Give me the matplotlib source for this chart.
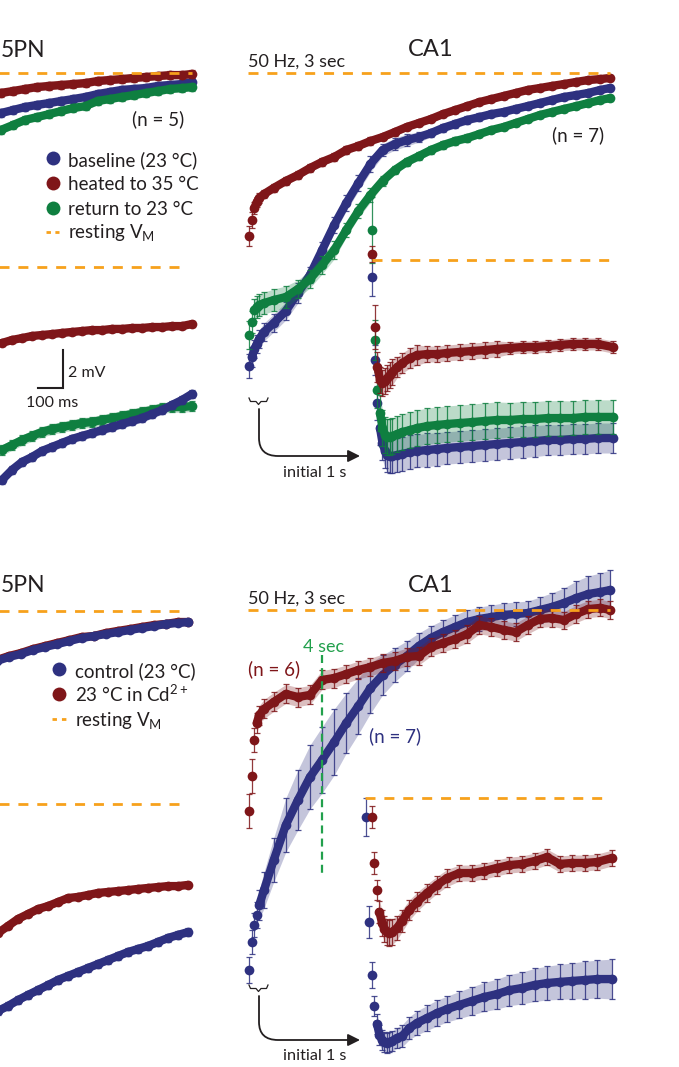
import numpy as np
import matplotlib
matplotlib.use("Agg")
import matplotlib.pyplot as plt
from matplotlib.path import Path
from matplotlib.patches import FancyArrowPatch

plt.rcParams['font.family'] = ['Lato', 'DejaVu Sans']
plt.rcParams['mathtext.fontset'] = 'custom'
plt.rcParams['mathtext.rm'] = 'Lato'
plt.rcParams['mathtext.it'] = 'Lato:italic'
plt.rcParams['mathtext.bf'] = 'Lato:bold'

# ------------------------------------------------------------------ data
# time points (ms) of the plotted pulses / samples
T_STIM = [0, 20, 40, 60, 80, 120, 200, 300, 400, 500, 600, 700, 800, 900, 1000,
          1100, 1200, 1300, 1400, 1500, 1600, 1700, 1800, 1900, 2000, 2100, 2200,
          2300, 2400, 2500, 2600, 2700, 2800, 2900, 2980]
T_POST = [0, 10, 20, 30, 40, 50, 60, 70, 80, 100, 120, 150, 180, 220, 260, 300,
          350, 400, 450, 500, 550, 600, 650, 700, 750, 800, 850, 900, 960]
T_L5_STIM = [1400, 1500, 1600, 1700, 1800, 1900, 2000, 2100, 2200, 2300, 2400,
             2500, 2600, 2700, 2800, 2900, 2980]
T_L5_POST = [200, 240, 280, 320, 360, 400, 440, 480, 520, 560, 600, 640, 680,
             720, 760, 800, 840, 880, 920, 960]
T_POST_CTRL_B = [-24, -12] + T_POST

# ---- top row : temperature (mV relative to resting Vm)
ca1_stim_base = [-15.42, -14.95, -14.53, -14.26, -14.00, -13.63, -13.16, -12.53, -11.58, -10.63,
                 -9.32, -8.00, -6.84, -5.79, -4.79, -4.05, -3.74, -3.53, -3.37, -3.16, -2.89,
                 -2.68, -2.47, -2.32, -2.16, -2.05, -1.89, -1.74, -1.58, -1.42, -1.26, -1.16,
                 -1.05, -0.89, -0.79]
ca1_stim_base_err = [0.63, 0.53, 0.47, 0.47, 0.47, 0.47, 0.47, 0.47, 0.53, 0.42, 0.42, 0.42,
                     0.42, 0.42, 0.42, 0.32, 0.32, 0.32, 0.26, 0.21, 0.21, 0.21, 0.21, 0.21,
                     0.18, 0.18, 0.18, 0.18, 0.18, 0.18, 0.16, 0.16, 0.16, 0.16, 0.16]
ca1_stim_heat = [-8.58, -7.74, -7.11, -6.79, -6.58, -6.37, -6.05, -5.68, -5.37, -5.00, -4.68,
                 -4.42, -4.05, -3.84, -3.58, -3.37, -3.11, -2.84, -2.63, -2.42, -2.16, -1.95,
                 -1.74, -1.53, -1.37, -1.21, -1.05, -0.89, -0.79, -0.68, -0.58, -0.47, -0.37,
                 -0.32, -0.26]
ca1_stim_heat_err = [0.55, 0.42, 0.32, 0.26, 0.24, 0.22, 0.21, 0.21, 0.2, 0.2, 0.2, 0.2, 0.2,
                     0.19, 0.19, 0.18, 0.18, 0.18, 0.17, 0.17, 0.17, 0.16, 0.16, 0.16, 0.16,
                     0.16, 0.16, 0.16, 0.16, 0.16, 0.16, 0.16, 0.16, 0.16, 0.16]
ca1_stim_ret = [-13.79, -13.11, -12.47, -12.32, -12.21, -12.11, -11.95, -11.79, -11.37, -10.84,
                -10.11, -9.32, -8.26, -7.26, -6.42, -5.68, -5.11, -4.68, -4.37, -4.05, -3.79,
                -3.58, -3.42, -3.21, -3.00, -2.84, -2.63, -2.42, -2.21, -2.05, -1.89, -1.74,
                -1.58, -1.42, -1.32]
ca1_stim_ret_err = [0.74, 0.58, 0.58, 0.58, 0.58, 0.58, 0.58, 0.58, 0.47, 0.47, 0.47, 0.47,
                    0.37, 0.37, 0.37, 0.26, 0.21, 0.21, 0.21, 0.21, 0.21, 0.21, 0.21, 0.18,
                    0.18, 0.18, 0.18, 0.18, 0.18, 0.18, 0.16, 0.16, 0.16, 0.16, 0.16]

ca1_post_heat = [0.32, -3.53, -5.63, -6.32, -6.47, -6.37, -6.21, -6.05, -5.89, -5.63, -5.42,
                 -5.16, -5.00, -4.95, -4.95, -4.89, -4.84, -4.79, -4.74, -4.68, -4.63, -4.58,
                 -4.58, -4.53, -4.47, -4.42, -4.42, -4.42, -4.58]
ca1_post_heat_err = [0.42, 1.16, 0.79, 0.68, 0.68, 0.68, 0.68, 0.68, 0.68, 0.53, 0.53, 0.53,
                     0.53, 0.42, 0.42, 0.42, 0.42, 0.42, 0.42, 0.42, 0.32, 0.32, 0.32, 0.32,
                     0.32, 0.32, 0.32, 0.32, 0.32]
ca1_post_ret = [1.58, -4.21, -6.84, -8.05, -8.84, -9.21, -9.32, -9.32, -9.26, -9.16, -9.05,
                -8.95, -8.84, -8.74, -8.68, -8.63, -8.58, -8.53, -8.47, -8.42, -8.42, -8.37,
                -8.37, -8.32, -8.32, -8.32, -8.26, -8.26, -8.26]
ca1_post_ret_err = [1.74, 1.05, 0.95, 0.95, 0.95, 0.95, 0.95, 0.95, 0.95, 0.95, 0.95, 0.95,
                    0.95, 0.95, 0.95, 0.95, 0.95, 0.95, 0.95, 0.95, 0.92, 0.92, 0.92, 0.92,
                    0.92, 0.9, 0.9, 0.9, 0.9]
ca1_post_base = [-0.89, -5.26, -7.53, -8.84, -9.63, -10.05, -10.26, -10.32, -10.32, -10.26,
                 -10.21, -10.11, -10.05, -10.00, -9.95, -9.89, -9.84, -9.79, -9.74, -9.68,
                 -9.63, -9.58, -9.53, -9.47, -9.47, -9.42, -9.42, -9.37, -9.37]
ca1_post_base_err = [1.0, 0.79, 0.89, 0.89, 0.89, 0.89, 0.89, 0.89, 0.89, 0.89, 0.89, 0.89,
                     0.87, 0.87, 0.87, 0.85, 0.85, 0.85, 0.83, 0.83, 0.83, 0.82, 0.82, 0.8,
                     0.8, 0.8, 0.79, 0.79, 0.79]

l5_stim_heat = [-1.05, -0.95, -0.84, -0.74, -0.68, -0.63, -0.58, -0.53, -0.42, -0.37, -0.32,
                -0.26, -0.21, -0.16, -0.11, -0.11, -0.05]
l5_stim_base = [-2.11, -1.95, -1.79, -1.68, -1.58, -1.47, -1.37, -1.26, -1.11, -1.00, -0.89,
                -0.84, -0.79, -0.68, -0.63, -0.58, -0.47]
l5_stim_ret = [-3.0, -2.74, -2.47, -2.32, -2.16, -2.0, -1.84, -1.74, -1.47, -1.37, -1.26,
               -1.16, -1.05, -0.95, -0.84, -0.79, -0.74]
l5_stim_err = 0.2

l5_post_heat = [-4.0, -3.84, -3.74, -3.63, -3.58, -3.53, -3.47, -3.42, -3.37, -3.32, -3.32,
                -3.26, -3.26, -3.21, -3.21, -3.16, -3.16, -3.11, -3.11, -3.0]
l5_post_base = [-11.21, -10.68, -10.26, -10.0, -9.68, -9.47, -9.26, -9.05, -8.89, -8.74, -8.58,
                -8.42, -8.26, -8.11, -7.95, -7.74, -7.53, -7.26, -7.0, -6.68]
l5_post_ret = [-9.63, -9.37, -9.11, -8.89, -8.68, -8.53, -8.42, -8.32, -8.21, -8.16, -8.05,
               -7.95, -7.84, -7.74, -7.63, -7.53, -7.42, -7.37, -7.37, -7.32]
l5_post_heat_err, l5_post_base_err, l5_post_ret_err = 0.15, 0.22, 0.28

# ---- bottom row : Cd2+
cd_ca1_stim_ctrl = [-18.95, -17.47, -16.58, -16.05, -15.53, -14.74, -13.16, -11.32, -10.0, -8.79,
                    -7.89, -6.95, -5.95, -5.05, -4.11, -3.42, -2.89, -2.42, -1.89, -1.47, -1.16,
                    -0.89, -0.63, -0.47, -0.37, -0.26, -0.21, -0.16, 0.0, 0.16, 0.37, 0.63,
                    0.84, 0.95, 1.05]
cd_ca1_stim_ctrl_err = [0.68, 0.63, 0.63, 0.68, 0.79, 0.95, 1.16, 1.42, 1.58, 1.68, 1.74, 1.74,
                        1.58, 1.47, 1.32, 1.05, 0.89, 0.79, 0.68, 0.63, 0.63, 0.63, 0.63, 0.63,
                        0.63, 0.63, 0.63, 0.63, 0.68, 0.74, 0.79, 0.89, 0.95, 1.0, 1.05]
cd_ca1_stim_cd = [-10.58, -8.74, -6.84, -5.95, -5.53, -5.21, -4.84, -4.42, -4.58, -4.47, -3.68,
                  -3.58, -3.37, -3.16, -3.0, -2.79, -2.68, -2.47, -2.42, -1.95, -1.74, -1.53,
                  -1.26, -0.79, -0.89, -1.05, -1.16, -0.79, -0.47, -0.42, -0.53, -0.21, 0.05,
                  0.11, 0.0]
cd_ca1_stim_cd_err = [0.89, 0.89, 0.63, 0.53, 0.5, 0.5, 0.5, 0.5, 0.5, 0.5, 0.5, 0.5, 0.47,
                      0.47, 0.47, 0.47, 0.47, 0.47, 0.47, 0.47, 0.47, 0.47, 0.47, 0.47, 0.47,
                      0.47, 0.47, 0.47, 0.45, 0.45, 0.45, 0.45, 0.45, 0.45, 0.45]

cd_ca1_post_cd = [-1.0, -3.42, -4.84, -6.0, -6.58, -6.89, -7.05, -7.11, -7.05, -6.84, -6.47,
                  -5.89, -5.47, -5.0, -4.58, -4.21, -3.95, -3.95, -3.84, -3.68, -3.53, -3.47,
                  -3.32, -3.11, -3.47, -3.42, -3.42, -3.37, -3.16]
cd_ca1_post_cd_err = [0.58, 0.58, 0.53, 0.6, 0.66, 0.68, 0.68, 0.68, 0.68, 0.63, 0.58, 0.53,
                      0.5, 0.47, 0.45, 0.45, 0.42, 0.42, 0.42, 0.42, 0.42, 0.42, 0.42, 0.42,
                      0.42, 0.42, 0.42, 0.42, 0.42]
cd_ca1_post_ctrl = [-1.0, -6.53, -9.32, -10.95, -11.89, -12.47, -12.74, -12.84, -12.89, -12.84,
                    -12.79, -12.63, -12.53, -12.11, -11.84, -11.58, -11.32, -11.11, -10.89,
                    -10.68, -10.47, -10.32, -10.11, -10.0, -9.84, -9.74, -9.68, -9.63, -9.58,
                    -9.53, -9.53]
cd_ca1_post_ctrl_err = [1.0, 0.84, 0.68, 0.53, 0.53, 0.53, 0.53, 0.53, 0.53, 0.53, 0.53, 0.55,
                        0.58, 0.6, 0.63, 0.66, 0.68, 0.68, 0.71, 0.74, 0.76, 0.79, 0.82, 0.84,
                        0.87, 0.89, 0.92, 0.95, 0.98, 1.0, 1.05]

cd_l5_stim_cd = [-2.58, -2.37, -2.21, -2.0, -1.84, -1.68, -1.53, -1.37, -1.32, -1.16, -1.05,
                 -0.95, -0.84, -0.74, -0.68, -0.58, -0.58]
cd_l5_stim_ctrl = [-2.63, -2.42, -2.26, -2.05, -1.89, -1.74, -1.58, -1.42, -1.32, -1.21, -1.11,
                   -1.0, -0.89, -0.79, -0.68, -0.63, -0.58]
cd_l5_stim_err = 0.12
cd_l5_post_cd = [-6.79, -6.42, -6.05, -5.79, -5.53, -5.37, -5.16, -4.95, -4.89, -4.79, -4.68,
                 -4.63, -4.58, -4.53, -4.47, -4.42, -4.37, -4.32, -4.32, -4.26]
cd_l5_post_ctrl = [-10.89, -10.63, -10.32, -10.05, -9.79, -9.53, -9.26, -9.05, -8.84, -8.63,
                   -8.42, -8.21, -8.0, -7.79, -7.63, -7.47, -7.26, -7.05, -6.89, -6.74]
cd_l5_post_cd_err, cd_l5_post_ctrl_err = 0.1, 0.2

SCALE_MS, SCALE_MV = 100, 2
GREEN_MARK_MS = 600

# ------------------------------------------------------------------ style
BLUE = '#2e3180'
RED = '#7f1619'
GREEN = '#0f7f40'
ORANGE = '#f7a11c'
GREEN_LINE = '#22a04c'
INK = '#231f20'

W, H, DPI = 679, 1067, 100
PX_PER_MV = 19.0
STIM_PPM = 0.121
POST_PPM = 0.25

fig = plt.figure(figsize=(W / DPI, H / DPI), dpi=DPI)


def trace_axes(x0, ppm, rest):
    ax = fig.add_axes([0, 0, 1, 1])
    ax.set_xlim(-x0 / ppm, (W - x0) / ppm)
    ax.set_ylim((rest - H) / PX_PER_MV, rest / PX_PER_MV)
    ax.set_axis_off()
    ax.patch.set_visible(False)
    return ax


def draw_trace(ax, t, v, err, color, dense_from=0, z=2.0):
    t = np.asarray(t, float)
    v = np.asarray(v, float)
    e = np.broadcast_to(np.asarray(err, float), v.shape)
    d = dense_from
    ax.fill_between(t[d:], (v - e)[d:], (v + e)[d:], color=color, alpha=0.28, lw=0, zorder=z)
    ax.errorbar(t, v, yerr=e, fmt='none', ecolor=color, elinewidth=0.9, capsize=2.4,
                capthick=0.9, alpha=0.85, zorder=z + 0.1)
    ax.plot(t[d:], v[d:], '-', color=color, lw=6.0, solid_capstyle='round',
            solid_joinstyle='round', zorder=z + 0.2)
    ax.plot(t, v, 'o', color=color, ms=7.0, mew=0, zorder=z + 0.3)


def rest_line(ax, t0, t1):
    ax.plot([t0, t1], [0, 0], color=ORANGE, lw=2.0, dashes=(3.6, 3.2), zorder=10)


# ---------------- top row
ax = trace_axes(-168.6, STIM_PPM, 73)
draw_trace(ax, T_L5_STIM, l5_stim_base, l5_stim_err, BLUE, z=2)
draw_trace(ax, T_L5_STIM, l5_stim_ret, l5_stim_err, GREEN, z=3)
draw_trace(ax, T_L5_STIM, l5_stim_heat, l5_stim_err, RED, z=4)
rest_line(ax, 1300, 2980)

ax = trace_axes(-48, POST_PPM, 267)
draw_trace(ax, T_L5_POST, l5_post_heat, l5_post_heat_err, RED, z=2)
draw_trace(ax, T_L5_POST, l5_post_ret, l5_post_ret_err, GREEN, z=3)
draw_trace(ax, T_L5_POST, l5_post_base, l5_post_base_err, BLUE, z=4)
rest_line(ax, 100, 940)
sb_t, sb_v = 344, -6.37
ax.plot([sb_t, sb_t + SCALE_MS, sb_t + SCALE_MS], [sb_v, sb_v, sb_v + SCALE_MV],
        color=INK, lw=1.5, solid_joinstyle='miter', zorder=12)

ax = trace_axes(249.5, STIM_PPM, 73)
draw_trace(ax, T_STIM, ca1_stim_base, ca1_stim_base_err, BLUE, dense_from=1, z=2)
draw_trace(ax, T_STIM, ca1_stim_heat, ca1_stim_heat_err, RED, dense_from=2, z=3)
draw_trace(ax, T_STIM, ca1_stim_ret, ca1_stim_ret_err, GREEN, dense_from=2, z=4)
rest_line(ax, -12, 2980)

ax = trace_axes(372.5, POST_PPM, 260)
draw_trace(ax, T_POST, ca1_post_base, ca1_post_base_err, BLUE, dense_from=3, z=2)
draw_trace(ax, T_POST, ca1_post_ret, ca1_post_ret_err, GREEN, dense_from=3, z=3)
draw_trace(ax, T_POST, ca1_post_heat, ca1_post_heat_err, RED, dense_from=2, z=4)
rest_line(ax, -2, 950)

# ---------------- bottom row
ax = trace_axes(-172.6, STIM_PPM, 611)
draw_trace(ax, T_L5_STIM, cd_l5_stim_cd, cd_l5_stim_err, RED, z=2)
draw_trace(ax, T_L5_STIM, cd_l5_stim_ctrl, cd_l5_stim_err, BLUE, z=3)
rest_line(ax, 1300, 2914)

ax = trace_axes(-52, POST_PPM, 804)
draw_trace(ax, T_L5_POST, cd_l5_post_cd, cd_l5_post_cd_err, RED, z=2)
draw_trace(ax, T_L5_POST, cd_l5_post_ctrl, cd_l5_post_ctrl_err, BLUE, z=3)
rest_line(ax, 100, 928)

ax = trace_axes(249.5, STIM_PPM, 610)
draw_trace(ax, T_STIM, cd_ca1_stim_ctrl, cd_ca1_stim_ctrl_err, BLUE, dense_from=4, z=2)
draw_trace(ax, T_STIM, cd_ca1_stim_cd, cd_ca1_stim_cd_err, RED, dense_from=3, z=3)
rest_line(ax, -12, 2980)
ax.plot([GREEN_MARK_MS, GREEN_MARK_MS], [-2.37, -13.84], color=GREEN_LINE, lw=1.6,
        dashes=(3.6, 2.3), zorder=11)

ax = trace_axes(372, POST_PPM, 798)
draw_trace(ax, T_POST_CTRL_B, cd_ca1_post_ctrl, cd_ca1_post_ctrl_err, BLUE, dense_from=4, z=2)
draw_trace(ax, T_POST, cd_ca1_post_cd, cd_ca1_post_cd_err, RED, dense_from=3, z=3)
rest_line(ax, -28, 932)

# ------------------------------------------------------------------ annotations (pixel overlay)
ov = fig.add_axes([0, 0, 1, 1])
ov.set_xlim(0, W)
ov.set_ylim(H, 0)
ov.set_axis_off()
ov.patch.set_visible(False)


def txt(x, y, s, size=13.5, color=INK, ha='left', **kw):
    ov.text(x, y, s, fontsize=size, color=color, ha=ha, va='baseline', **kw)


# titles (the reference is cropped at its left edge, showing only "5PN")
txt(1, 57, '5PN', size=16.5)
txt(431, 56, 'CA1', size=17, ha='center')
txt(1, 592, '5PN', size=16.5)
txt(431, 592, 'CA1', size=17, ha='center')
txt(248, 67, '50 Hz, 3 sec', size=13)
txt(248, 604, '50 Hz, 3 sec', size=13)

txt(132, 125, '(n = 5)')
txt(552, 141, '(n = 7)')
txt(248, 675, '(n = 6)', color=RED)
txt(369, 742, '(n = 7)', color=BLUE)
txt(303, 652, '4 sec', size=13, color=GREEN_LINE)

# legends
leg_top = [('baseline (23 °C)', BLUE, 158, 166), ('heated to 35 °C', RED, 183, 190),
           ('return to 23 °C', GREEN, 208, 215)]
for lab, c, ym, yb in leg_top:
    ov.plot([53], [ym], 'o', color=c, ms=10, mew=0)
    txt(68, yb, lab)
ov.plot([46, 59], [232, 232], color=ORANGE, lw=2, dashes=(1.6, 1.6))
txt(68, 238, r'resting V$_{\mathregular{M}}$')

leg_bot = [('control (23 °C)', BLUE, 669, 677), (r'23 °C in Cd$^{\mathregular{2+}}$', RED, 694, 702)]
for lab, c, ym, yb in leg_bot:
    ov.plot([59], [ym], 'o', color=c, ms=10, mew=0)
    txt(75, yb, lab)
ov.plot([52, 66], [719, 719], color=ORANGE, lw=2, dashes=(1.6, 1.8))
txt(75, 726, r'resting V$_{\mathregular{M}}$')

# scale bar labels
txt(68, 377, '2 mV', size=11.5)
txt(26, 407, '100 ms', size=11.5)


# braces + arrows
def brace_and_arrow(yb, y_arrow, y_text):
    bx = [249, 250.5, 256, 258.5, 261, 266.5, 268]
    by = [yb, yb + 3.5, yb + 3.5, yb + 6.5, yb + 3.5, yb + 3.5, yb]
    ov.plot(bx, by, color=INK, lw=0.9)
    verts = [(259, yb + 11), (259, y_arrow - 18), (259, y_arrow), (278, y_arrow),
             (360, y_arrow)]
    codes = [Path.MOVETO, Path.LINETO, Path.CURVE3, Path.CURVE3, Path.LINETO]
    arr = FancyArrowPatch(path=Path(verts, codes), arrowstyle='-|>,head_length=0.6,head_width=0.3',
                          mutation_scale=12, color=INK, lw=1.3, transform=ov.transData)
    ov.add_patch(arr)
    txt(283, y_text, 'initial 1 s', size=11.7)


brace_and_arrow(398, 456, 477)
brace_and_arrow(985, 1040, 1060)

fig.savefig('out.png', dpi=DPI)
